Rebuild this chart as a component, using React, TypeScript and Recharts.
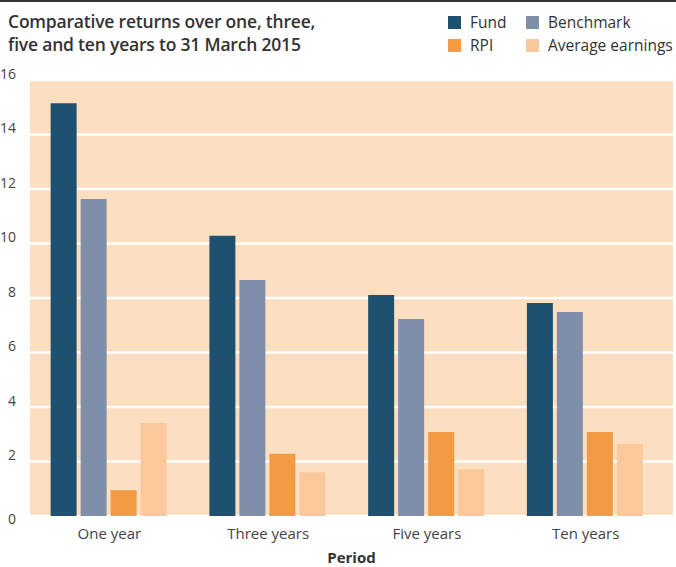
import * as React from "react";
import { Bar, BarChart, CartesianGrid, XAxis, YAxis } from "recharts";

// Comparative returns (%) by period.
const periods = ["One year", "Three years", "Five years", "Ten years"];
const fund = [15.15, 10.28, 8.11, 7.82];
const benchmark = [11.63, 8.66, 7.23, 7.49];
const rpi = [0.95, 2.28, 3.08, 3.08];
const avgEarnings = [3.41, 1.61, 1.72, 2.64];
const yTicks = [0, 2, 4, 6, 8, 10, 12, 14, 16];

const SERIES = [
  { key: "fund", label: "Fund", color: "#1e5170" },
  { key: "benchmark", label: "Benchmark", color: "#7f8fa9" },
  { key: "rpi", label: "RPI", color: "#f39a45" },
  { key: "avg", label: "Average earnings", color: "#fbc89b" },
];

const data = periods.map((p, i) => ({
  period: p,
  fund: fund[i],
  benchmark: benchmark[i],
  rpi: rpi[i],
  avg: avgEarnings[i],
}));

const FONT = "'Open Sans', 'Noto Sans', sans-serif";
const BG = "#fcdec0";

function YTick({ x, y, payload }: any) {
  const dy = payload.value === 0 ? 4 : -5;
  return (
    <text
      x={x}
      y={y + dy}
      textAnchor="end"
      dominantBaseline="middle"
      fill="#444"
      style={{ fontSize: 14, fontFamily: FONT }}
    >
      {payload.value}
    </text>
  );
}

function Legend() {
  return (
    <div
      style={{
        position: "absolute",
        left: 448,
        top: 13,
        display: "grid",
        gridTemplateColumns: "78px 150px",
        rowGap: 5,
        fontFamily: FONT,
        fontSize: 15.5,
        color: "#333",
        whiteSpace: "nowrap",
      }}
    >
      {SERIES.map((s) => (
        <div key={s.key} style={{ display: "flex", alignItems: "center", height: 18 }}>
          <span
            style={{
              width: 13,
              height: 13,
              background: s.color,
              display: "inline-block",
              marginRight: 9,
              flexShrink: 0,
            }}
          />
          {s.label}
        </div>
      ))}
    </div>
  );
}

export default function App() {
  return (
    <div
      style={{
        position: "fixed",
        left: 0,
        top: 0,
        width: 676,
        height: 567,
        background: "#fff",
        fontFamily: FONT,
      }}
    >
      <div style={{ position: "absolute", left: 0, top: 0, width: 676, height: 2, background: "#333" }} />
      <div
        style={{
          position: "absolute",
          left: 8,
          top: 10,
          fontSize: 17.5,
          fontWeight: 600,
          lineHeight: "23px",
          color: "#333",
          letterSpacing: -0.2,
        }}
      >
        Comparative returns over one, three,
        <br />
        five and ten years to 31 March 2015
      </div>
      <Legend />
      <div style={{ position: "absolute", left: 30, top: 80, width: 643, height: 436, background: BG }} />
      <div style={{ position: "absolute", left: 0, top: 0 }}>
        <BarChart
          width={676}
          height={567}
          data={data}
          margin={{ top: 80, right: 3, bottom: 0, left: 0 }}
          barCategoryGap="13%"
          barGap={4}
        >
          <CartesianGrid horizontal vertical={false} stroke="#fff" strokeWidth={2.5} />
          <XAxis
            dataKey="period"
            tickLine={false}
            axisLine={false}
            padding={{ left: 0, right: 8 }}
            tick={{ fill: "#444", fontSize: 15, fontFamily: FONT }}
            tickMargin={6}
            height={51}
            label={{
              value: "Period",
              position: "insideBottom",
              offset: 4,
              style: { fill: "#333", fontSize: 15, fontWeight: 700, fontFamily: FONT },
            }}
          />
          <YAxis
            width={30}
            domain={[0, 16]}
            ticks={yTicks}
            tickLine={false}
            axisLine={false}
            tick={<YTick />}
            tickMargin={8}
          />
          {SERIES.map((s) => (
            <Bar key={s.key} dataKey={s.key} fill={s.color} isAnimationActive={false} />
          ))}
        </BarChart>
      </div>
    </div>
  );
}
